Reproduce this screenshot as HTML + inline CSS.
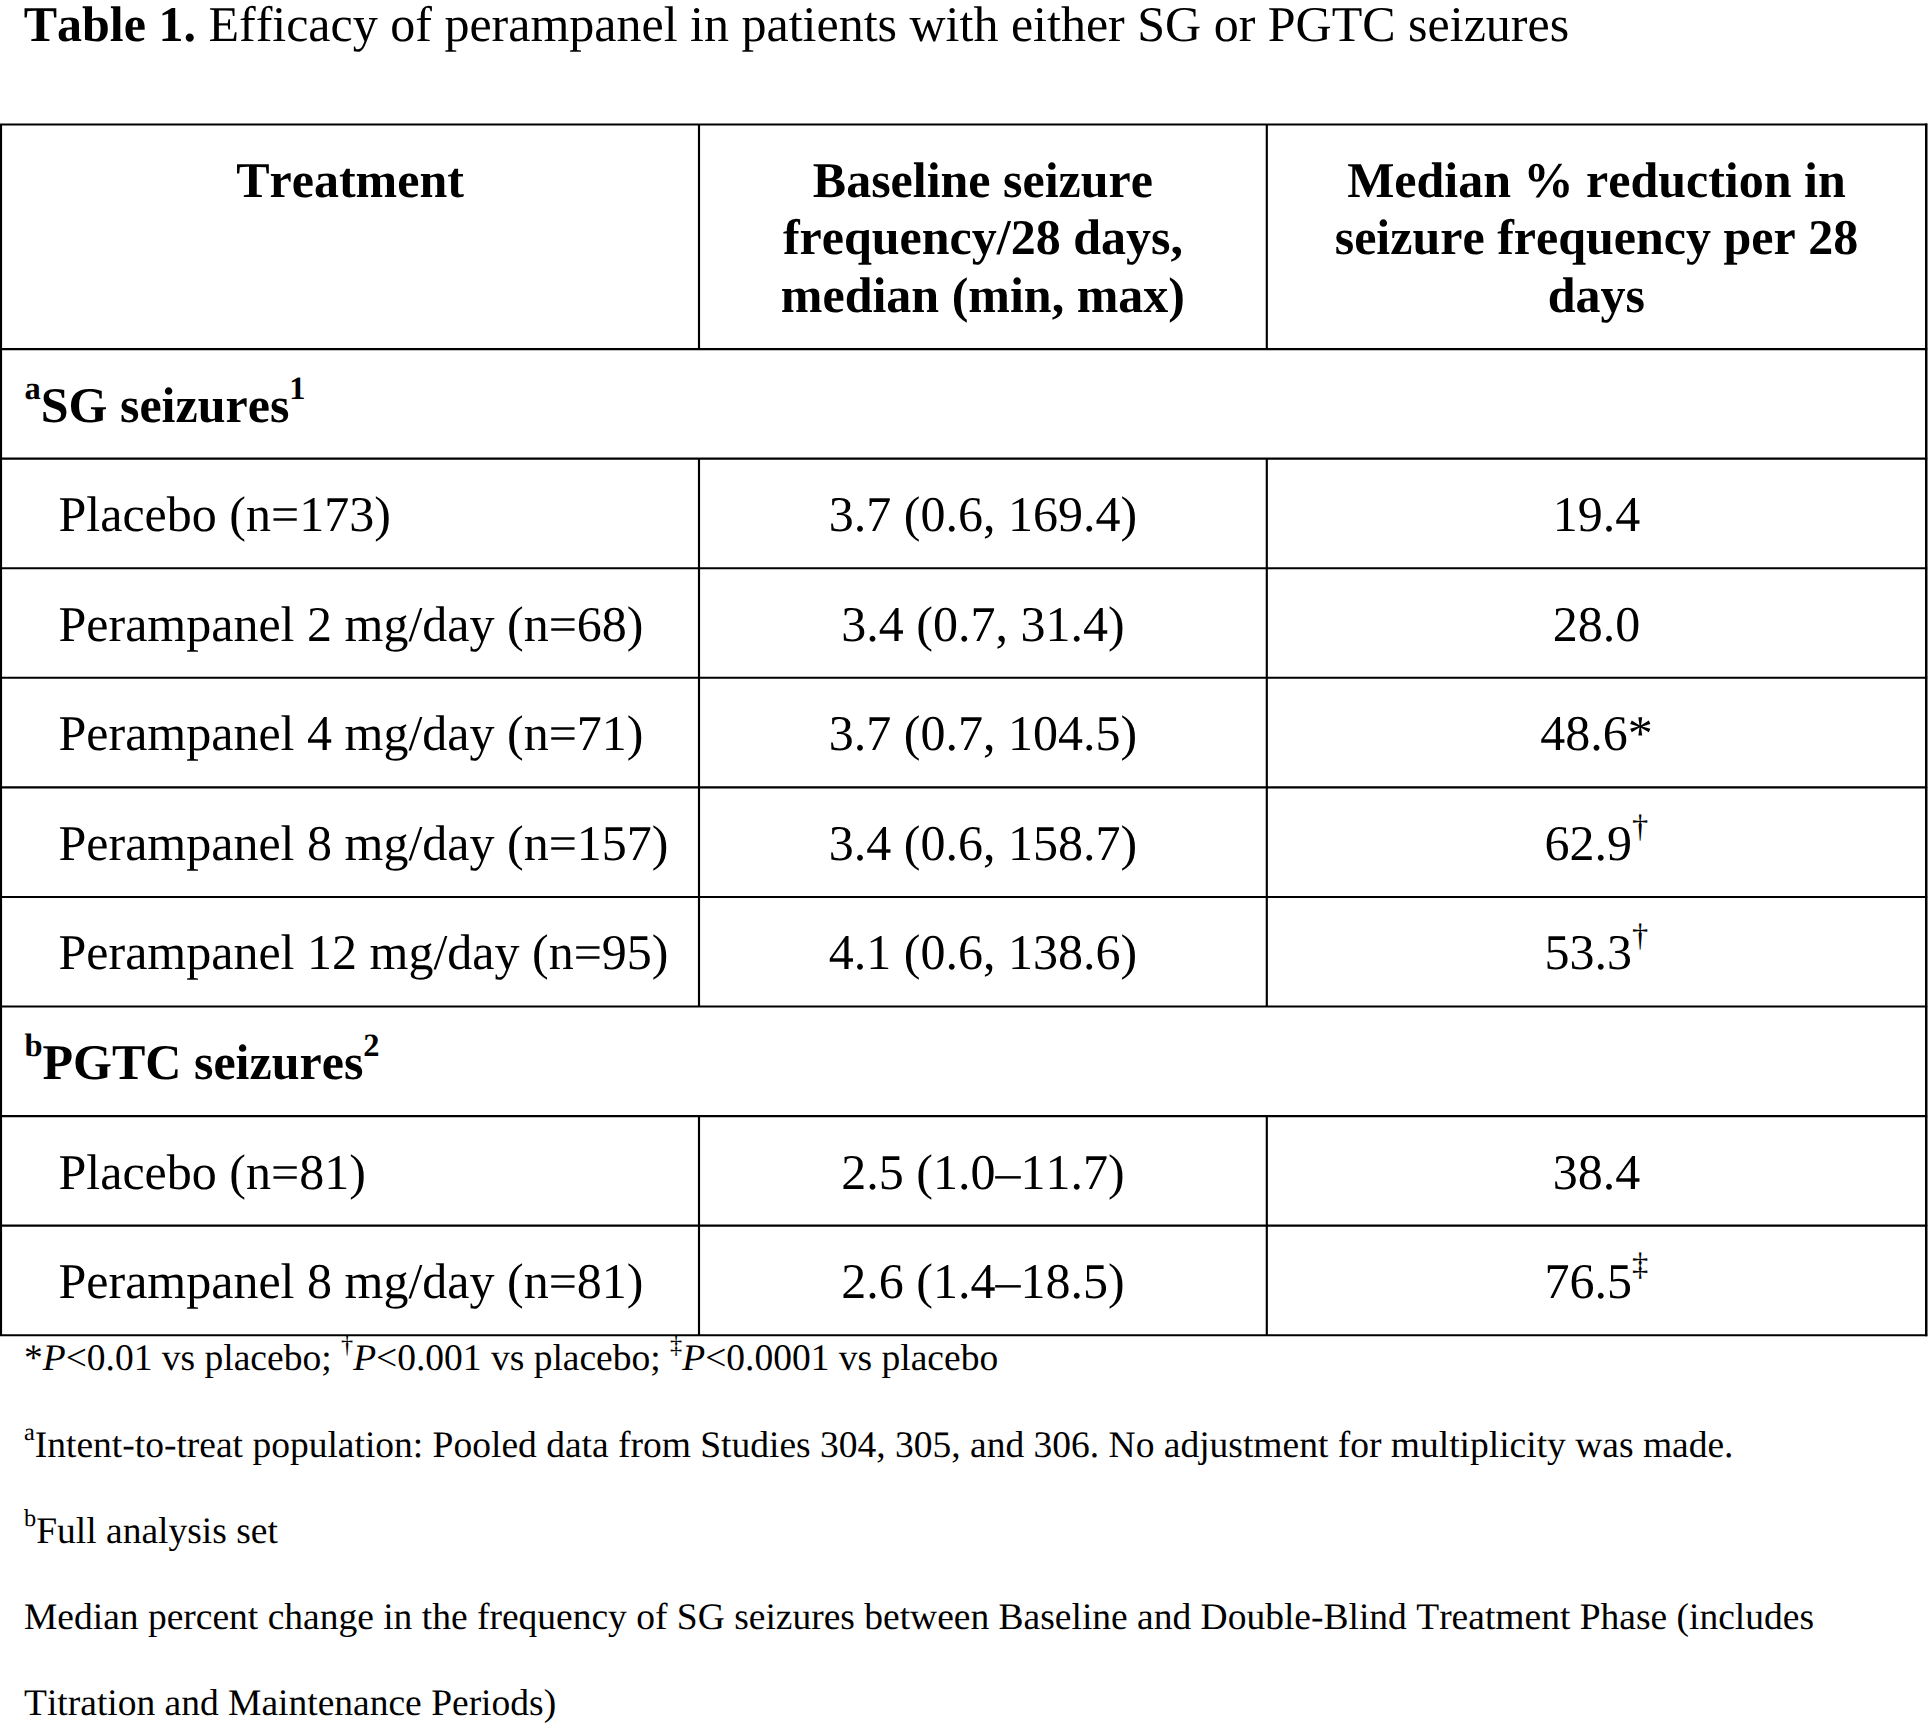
<!DOCTYPE html>
<html lang="en"><head><meta charset="utf-8"><title>Table 1</title>
<style>
html,body{margin:0;padding:0;background:#fff;}
body{font-kerning:none;font-variant-ligatures:none;text-rendering:geometricPrecision;width:1928px;height:1728px;position:relative;overflow:hidden;font-family:"Liberation Serif",serif;color:#000;}
.t{position:absolute;white-space:nowrap;font-size:50px;line-height:60px;height:60px;}
.c{text-align:center;}
.b{font-weight:bold;}
.f{font-size:37.5px;}
svg{position:absolute;left:0;top:0;}
sup{font-size:65%;line-height:0;vertical-align:baseline;position:relative;top:-0.708em;}
</style></head><body>
<svg width="1928" height="1728" viewBox="0 0 1928 1728" fill="none" stroke="#000" stroke-width="2.15">
<line x1="0.00" y1="124.45" x2="1927.20" y2="124.45"/>
<line x1="0.00" y1="349.05" x2="1927.20" y2="349.05"/>
<line x1="0.00" y1="458.63" x2="1927.20" y2="458.63"/>
<line x1="0.00" y1="568.21" x2="1927.20" y2="568.21"/>
<line x1="0.00" y1="677.79" x2="1927.20" y2="677.79"/>
<line x1="0.00" y1="787.37" x2="1927.20" y2="787.37"/>
<line x1="0.00" y1="896.95" x2="1927.20" y2="896.95"/>
<line x1="0.00" y1="1006.53" x2="1927.20" y2="1006.53"/>
<line x1="0.00" y1="1116.11" x2="1927.20" y2="1116.11"/>
<line x1="0.00" y1="1225.69" x2="1927.20" y2="1225.69"/>
<line x1="0.00" y1="1335.27" x2="1927.20" y2="1335.27"/>
<line x1="1.00" y1="124.45" x2="1.00" y2="1335.27"/>
<line x1="1926.25" y1="123.47" x2="1926.25" y2="1336.19" stroke-width="2.5"/>
<line x1="699.00" y1="124.45" x2="699.00" y2="349.05"/>
<line x1="699.00" y1="458.63" x2="699.00" y2="1006.53"/>
<line x1="699.00" y1="1116.11" x2="699.00" y2="1335.27"/>
<line x1="1266.80" y1="124.45" x2="1266.80" y2="349.05"/>
<line x1="1266.80" y1="458.63" x2="1266.80" y2="1006.53"/>
<line x1="1266.80" y1="1116.11" x2="1266.80" y2="1335.27"/>
</svg>
<div class="t " style="left:23.7px;top:-6px;"><b>Table 1.</b> Efficacy of perampanel in patients with either SG or PGTC seizures</div>
<div class="t c b" style="left:1.0px;top:150px;width:698.0px;">Treatment</div>
<div class="t c b" style="left:699.0px;top:150px;width:567.8px;">Baseline seizure</div>
<div class="t c b" style="left:699.0px;top:207px;width:567.8px;">frequency/28 days,</div>
<div class="t c b" style="left:699.0px;top:265px;width:567.8px;">median (min, max)</div>
<div class="t c b" style="left:1266.8px;top:150px;width:659.3px;">Median % reduction in</div>
<div class="t c b" style="left:1266.8px;top:207px;width:659.3px;">seizure frequency per 28</div>
<div class="t c b" style="left:1266.8px;top:265px;width:659.3px;">days</div>
<div class="t b" style="left:24.5px;top:375px;"><sup>a</sup>SG seizures<sup>1</sup></div>
<div class="t " style="left:58.5px;top:484px;">Placebo (n=173)</div>
<div class="t c " style="left:699.0px;top:484px;width:567.8px;">3.7 (0.6, 169.4)</div>
<div class="t c " style="left:1266.8px;top:484px;width:659.3px;">19.4</div>
<div class="t " style="left:58.5px;top:594px;">Perampanel 2 mg/day (n=68)</div>
<div class="t c " style="left:699.0px;top:594px;width:567.8px;">3.4 (0.7, 31.4)</div>
<div class="t c " style="left:1266.8px;top:594px;width:659.3px;">28.0</div>
<div class="t " style="left:58.5px;top:703px;">Perampanel 4 mg/day (n=71)</div>
<div class="t c " style="left:699.0px;top:703px;width:567.8px;">3.7 (0.7, 104.5)</div>
<div class="t c " style="left:1266.8px;top:703px;width:659.3px;">48.6*</div>
<div class="t " style="left:58.5px;top:813px;">Perampanel 8 mg/day (n=157)</div>
<div class="t c " style="left:699.0px;top:813px;width:567.8px;">3.4 (0.6, 158.7)</div>
<div class="t c " style="left:1266.8px;top:813px;width:659.3px;">62.9<sup>†</sup></div>
<div class="t " style="left:58.5px;top:922px;">Perampanel 12 mg/day (n=95)</div>
<div class="t c " style="left:699.0px;top:922px;width:567.8px;">4.1 (0.6, 138.6)</div>
<div class="t c " style="left:1266.8px;top:922px;width:659.3px;">53.3<sup>†</sup></div>
<div class="t b" style="left:24.5px;top:1032px;"><sup>b</sup>PGTC seizures<sup>2</sup></div>
<div class="t " style="left:58.5px;top:1142px;">Placebo (n=81)</div>
<div class="t c " style="left:699.0px;top:1142px;width:567.8px;">2.5 (1.0–11.7)</div>
<div class="t c " style="left:1266.8px;top:1142px;width:659.3px;">38.4</div>
<div class="t " style="left:58.5px;top:1251px;">Perampanel 8 mg/day (n=81)</div>
<div class="t c " style="left:699.0px;top:1251px;width:567.8px;">2.6 (1.4–18.5)</div>
<div class="t c " style="left:1266.8px;top:1251px;width:659.3px;">76.5<sup>‡</sup></div>
<div class="t f" style="left:24.0px;top:1329px;">*<i>P</i>&lt;0.01 vs placebo; <sup>†</sup><i>P</i>&lt;0.001 vs placebo; <sup>‡</sup><i>P</i>&lt;0.0001 vs placebo</div>
<div class="t f" style="left:24.0px;top:1416px;"><sup>a</sup>Intent-to-treat population: Pooled data from Studies 304, 305, and 306. No adjustment for multiplicity was made.</div>
<div class="t f" style="left:24.0px;top:1502px;"><sup>b</sup>Full analysis set</div>
<div class="t f" style="left:24.0px;top:1588px;">Median percent change in the frequency of SG seizures between Baseline and Double-Blind Treatment Phase (includes</div>
<div class="t f" style="left:24.0px;top:1674px;">Titration and Maintenance Periods)</div>
</body></html>
